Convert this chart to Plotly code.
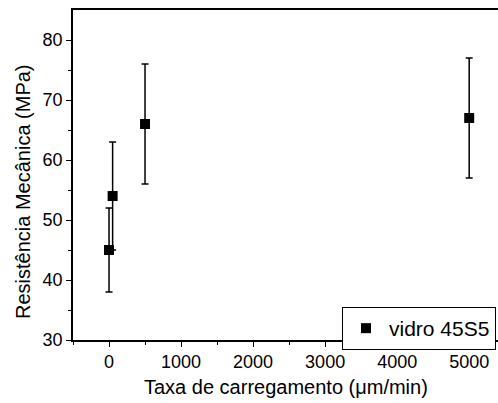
import plotly.graph_objects as go

rate = [0, 50, 500, 5000]
strength = [45, 54, 66, 67]
err = [7, 9, 10, 10]
series_name = "vidro 45S5"
x_title = "Taxa de carregamento (\u03bcm/min)"
y_title = "Resist\u00eancia Mec\u00e2nica (MPa)"

FONT = "Liberation Sans, Arial, sans-serif"

fig = go.Figure()
fig.add_trace(go.Scatter(
    x=rate, y=strength, mode="markers", name=series_name,
    marker=dict(symbol="square", size=10, color="black"),
    error_y=dict(type="data", array=err, visible=True, color="black",
                 thickness=1.5, width=3.5),
))

fig.update_layout(
    width=498, height=403,
    margin=dict(l=73, r=0, t=10, b=63, autoexpand=False),
    paper_bgcolor="white", plot_bgcolor="white",
    font=dict(family=FONT, color="black", size=18),
    showlegend=True,
    legend=dict(x=(342 - 73) / 425, y=(340 - 307) / 330, xanchor="left", yanchor="top",
                bordercolor="black", borderwidth=1, bgcolor="white",
                font=dict(size=21, family=FONT), itemwidth=36),
    xaxis=dict(range=[-500, 5400], tickvals=[0, 1000, 2000, 3000, 4000, 5000],
               showgrid=False, zeroline=False, showline=True, linecolor="black",
               linewidth=1.5, mirror=True, ticks="outside", ticklen=5, tickwidth=1,
               tickcolor="black",
               minor=dict(tickvals=[-500, 500, 1500, 2500, 3500, 4500], ticks="outside",
                          ticklen=3, tickcolor="black"),
               tickfont=dict(size=18)),
    yaxis=dict(range=[30, 85], tickvals=[30, 40, 50, 60, 70, 80],
               showgrid=False, zeroline=False, showline=True, linecolor="black",
               linewidth=1.5, ticks="outside", ticklen=5, tickwidth=1, tickcolor="black",
               minor=dict(tickvals=[35, 45, 55, 65, 75], ticks="outside",
                          ticklen=3, tickcolor="black"),
               tickfont=dict(size=18)),
    annotations=[
        dict(text=x_title, xref="paper", yref="paper", x=0.5, y=-(387 - 340) / 330,
             yanchor="middle", showarrow=False, font=dict(size=20, family=FONT)),
        dict(text=y_title, xref="paper", yref="paper", x=-63 / 425, y=(340 - 192) / 330,
             textangle=-90, xanchor="left", yanchor="middle", showarrow=False,
             font=dict(size=20, family=FONT)),
    ],
)

fig.write_html("out.html")
